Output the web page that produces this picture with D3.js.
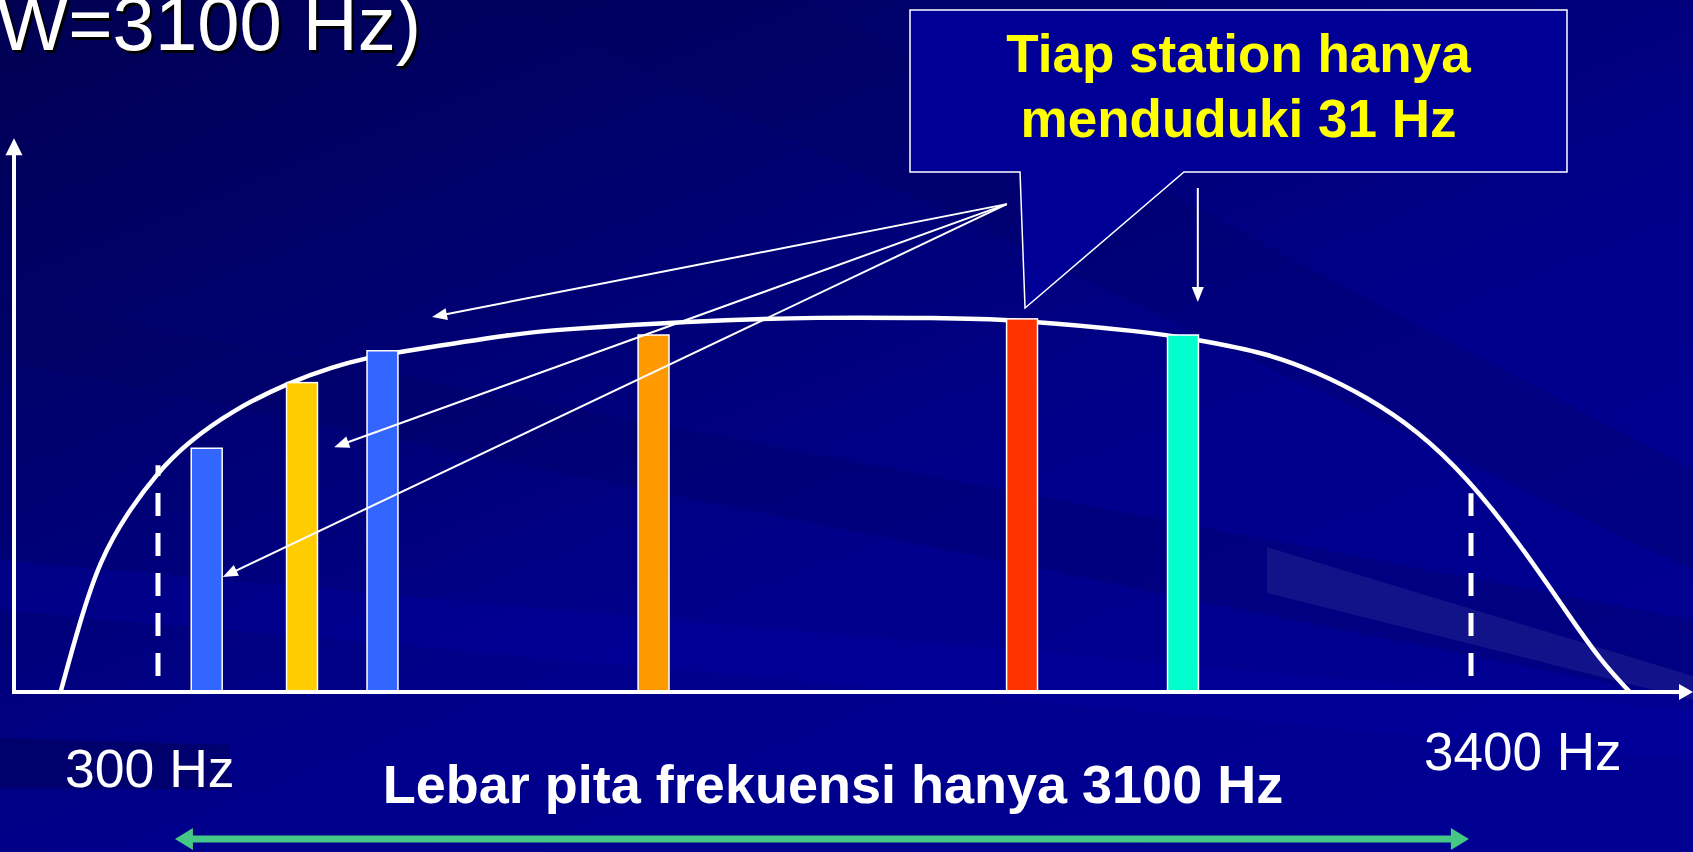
<!DOCTYPE html>
<html>
<head>
<meta charset="utf-8">
<script src="https://cdn.jsdelivr.net/npm/d3@7"></script>
<style>
  html, body { margin: 0; padding: 0; background: #00008c; overflow: hidden; }
  svg { display: block; }
  text { font-family: "Liberation Sans", Arial, sans-serif; }
</style>
</head>
<body>
<svg id="chart" width="1693" height="852"></svg>
<script>
// stasiun: frekuensi tengah (Hz), tinggi relatif, warna
var stations = [415, 640, 830, 1470, 2340, 2720];
var levels = [0.65, 0.825, 0.91, 0.952, 0.995, 0.952];
var colors = ["#3366ff", "#ffcc00", "#3366ff", "#ff9900", "#ff3300", "#00ffcc"];
var stationWidth = 73; // Hz

// respon kanal telepon (kurva putih)
var respFreq = [70, 116, 163, 227, 298, 368, 477, 612, 713, 793, 871, 1155, 1233, 1549, 1863, 2146, 2304, 2642, 2755, 2918, 3036, 3154, 3272, 3390, 3509, 3627, 3705, 3775];
var respLevel = [0, 0.19, 0.352, 0.477, 0.584, 0.664, 0.752, 0.827, 0.867, 0.891, 0.907, 0.957, 0.965, 0.989, 1.0, 0.997, 0.995, 0.96, 0.939, 0.904, 0.853, 0.787, 0.699, 0.573, 0.405, 0.211, 0.085, 0];

// batas pita
var bandEdges = [300, 3400];
var bandLabels = ["300 Hz", "3400 Hz"];
var cutoffTop = [0.605, 0.53];

// panah penunjuk dari balon ke stasiun
var pointerFrom = [2304, 1.301];
var pointerTo = [[947, 1.0], [716, 0.653], [453, 0.307]];

var svg = d3.select("#chart");
var W = 1693, H = 852;

var x = d3.scaleLinear().domain([300, 3400]).range([158, 1471]);
var y = d3.scaleLinear().domain([0, 1]).range([692, 317]);

// latar belakang
var defs = svg.append("defs");
var bg = defs.append("linearGradient").attr("id", "bg")
    .attr("x1", 0).attr("y1", 0).attr("x2", 0.8).attr("y2", 1);
bg.append("stop").attr("offset", "0%").attr("stop-color", "#000052");
bg.append("stop").attr("offset", "35%").attr("stop-color", "#000072");
bg.append("stop").attr("offset", "65%").attr("stop-color", "#00008c");
bg.append("stop").attr("offset", "100%").attr("stop-color", "#000092");
svg.append("rect").attr("width", W).attr("height", H).attr("fill", "url(#bg)");

var streaks = [
  { pts: [[0, 300], [0, 360], [1693, 700], [1693, 620]], fill: "#000060", op: 0.3 },
  { pts: [[500, 0], [800, 0], [1693, 470], [1693, 570]], fill: "#00005a", op: 0.25 },
  { pts: [[0, 560], [0, 610], [1693, 760], [1693, 710]], fill: "#0000a8", op: 0.3 },
  { pts: [[0, 738], [0, 788], [230, 790], [230, 745]], fill: "#000050", op: 0.45 },
  { pts: [[1267, 547], [1693, 676], [1693, 700], [1267, 593]], fill: "#ffffff", op: 0.07 }
];
svg.append("g").selectAll("path").data(streaks).join("path")
    .attr("d", function (d) { return d3.line()(d.pts) + "Z"; })
    .attr("fill", function (d) { return d.fill; })
    .attr("opacity", function (d) { return d.op; });

function head(g, p0, p1, o) {
  var dx = p1[0] - p0[0], dy = p1[1] - p0[1];
  var L = Math.hypot(dx, dy), ux = dx / L, uy = dy / L;
  var bx = p1[0] - ux * o.len, by = p1[1] - uy * o.len;
  g.append("path")
      .attr("d", d3.line()([p1, [bx - uy * o.half, by + ux * o.half], [bx + uy * o.half, by - ux * o.half]]) + "Z")
      .attr("fill", o.color);
  return [bx + ux * 2, by + uy * 2];
}

function arrow(g, p0, p1, o) {
  var end = head(g, p0, p1, o);
  g.insert("line", "path")
      .attr("x1", p0[0]).attr("y1", p0[1])
      .attr("x2", end[0]).attr("y2", end[1])
      .attr("stroke", o.color).attr("stroke-width", o.w);
}

// kurva respon
var line = d3.line()
    .x(function (d, i) { return x(respFreq[i]); })
    .y(function (d) { return y(d); })
    .curve(d3.curveBasis);
svg.append("path")
    .attr("d", line(respLevel))
    .attr("fill", "none")
    .attr("stroke", "white")
    .attr("stroke-width", 4.5);

// garis putus-putus batas pita
svg.append("g").selectAll("line").data(bandEdges).join("line")
    .attr("x1", function (d) { return x(d); })
    .attr("x2", function (d) { return x(d); })
    .attr("y1", y(0.043))
    .attr("y2", function (d, i) { return y(cutoffTop[i]); })
    .attr("stroke", "white")
    .attr("stroke-width", 5)
    .attr("stroke-dasharray", "23,17");

// batang stasiun
svg.append("g").selectAll("rect").data(stations).join("rect")
    .attr("x", function (d) { return x(d - stationWidth / 2); })
    .attr("width", function (d) { return x(d + stationWidth / 2) - x(d - stationWidth / 2); })
    .attr("y", function (d, i) { return y(levels[i]); })
    .attr("height", function (d, i) { return y(0) - y(levels[i]); })
    .attr("fill", function (d, i) { return colors[i]; })
    .attr("stroke", "white")
    .attr("stroke-width", 1.5);

// sumbu
var axes = svg.append("g");
arrow(axes.append("g"), [x(-40), y(0)], [x(-40), y(1.477)], { color: "white", w: 4, len: 17, half: 8.5 });
arrow(axes.append("g"), [x(-40) - 2, y(0)], [W, y(0)], { color: "white", w: 4, len: 14, half: 8 });

// panah penunjuk
var ptr = svg.append("g");
pointerTo.forEach(function (t) {
  arrow(ptr.append("g"), [x(pointerFrom[0]), y(pointerFrom[1])], [x(t[0]), y(t[1])], { color: "white", w: 2, len: 15, half: 6 });
});
arrow(ptr.append("g"), [x(2755), y(1.344)], [x(2755), y(1.04)], { color: "white", w: 2, len: 15, half: 6 });

// balon keterangan
var red = stations[4];
var tip = [x(red) + 3, y(1.024)];
var box = { x0: 910, x1: 1567, y0: 10, y1: 172, t0: 1020, t1: 1184 };
svg.append("path")
    .attr("d", d3.line()([
      [box.x0, box.y0], [box.x1, box.y0], [box.x1, box.y1], [box.t1, box.y1],
      tip, [box.t0, box.y1], [box.x0, box.y1]
    ]) + "Z")
    .attr("fill", "#000096")
    .attr("stroke", "white")
    .attr("stroke-width", 1.5);
var callout = ["Tiap station hanya", "menduduki 31 Hz"];
svg.append("g").selectAll("text").data(callout).join("text")
    .attr("x", (box.x0 + box.x1) / 2)
    .attr("y", function (d, i) { return 72 + i * 65; })
    .attr("text-anchor", "middle")
    .attr("font-size", 53)
    .attr("font-weight", "bold")
    .attr("fill", "#ffff00")
    .text(function (d) { return d; });

// panah lebar pita (hijau)
var gy = y(0) + 147;
var green = svg.append("g");
var gl = [x(340), x(3395)];
var e1 = head(green, [gl[0], gy], [gl[1], gy], { color: "#45c785", len: 18, half: 11 });
var e0 = head(green, [gl[1], gy], [gl[0], gy], { color: "#45c785", len: 18, half: 11 });
green.insert("line", "path")
    .attr("x1", e0[0]).attr("x2", e1[0])
    .attr("y1", gy).attr("y2", gy)
    .attr("stroke", "#45c785").attr("stroke-width", 7);

// label
svg.append("text")
    .attr("x", x(bandEdges[0]) - 93).attr("y", 787)
    .attr("font-size", 53.5).attr("fill", "white")
    .text(bandLabels[0]);
svg.append("text")
    .attr("x", x(bandEdges[1]) - 47).attr("y", 770)
    .attr("font-size", 53).attr("fill", "white")
    .text(bandLabels[1]);
svg.append("text")
    .attr("x", 833).attr("y", 803)
    .attr("text-anchor", "middle")
    .attr("font-size", 54).attr("font-weight", "bold").attr("fill", "white")
    .text("Lebar pita frekuensi hanya " + (bandEdges[1] - bandEdges[0]) + " Hz");

// judul (terpotong di atas, seperti aslinya)
var title = "W=3100 Hz)";
svg.append("text")
    .attr("x", 423.5).attr("y", 52.5)
    .attr("text-anchor", "end")
    .attr("font-size", 76).attr("fill", "black")
    .text(title);
svg.append("text")
    .attr("x", 421).attr("y", 50)
    .attr("text-anchor", "end")
    .attr("font-size", 76).attr("fill", "white")
    .text(title);
</script>
</body>
</html>
